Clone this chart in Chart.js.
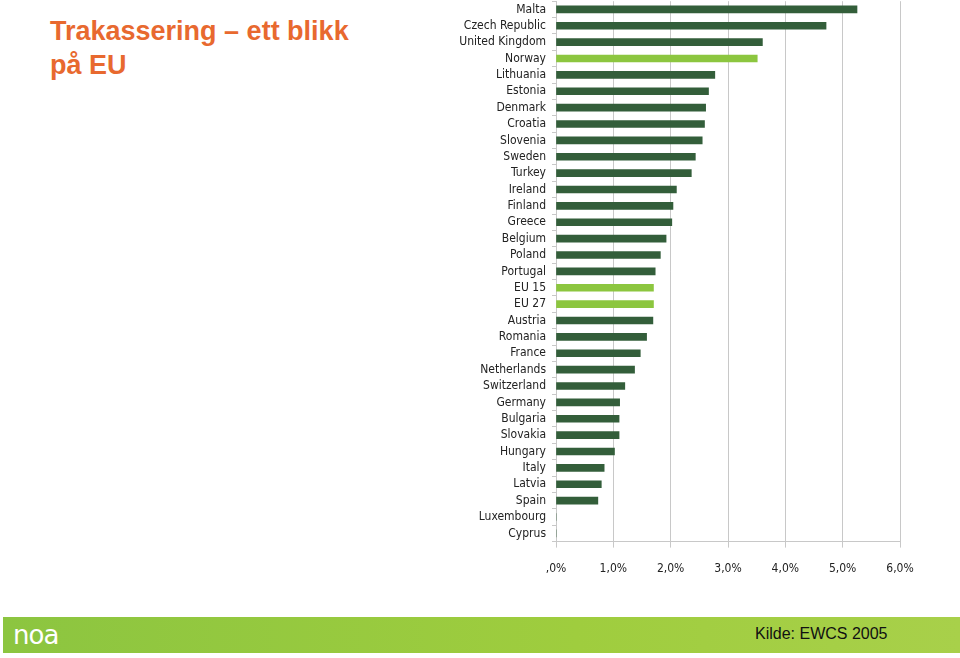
<!DOCTYPE html>
<html>
<head>
<meta charset="utf-8">
<script src="https://cdn.jsdelivr.net/npm/chart.js@4"></script>
<style>
  body { margin: 0; width: 960px; height: 658px; background: #fff; position: relative; overflow: hidden; }
  #title {
    position: absolute; left: 50px; top: 14px;
    font: bold 27px "Liberation Sans", Arial, sans-serif; line-height: 34px;
    color: #e8692f;
  }
  #chartBox { position: absolute; left: 440px; top: -12px; width: 490px; height: 602px; }
  #footer {
    position: absolute; left: 3px; top: 617px; width: 957px; height: 36px;
    background: linear-gradient(to right, #8cc540, #9fcd3e 60%, #a8d04a);
  }
  #logo {
    position: absolute; left: 10px; top: 3px;
    font: 26px "DejaVu Sans", sans-serif; color: #fff; letter-spacing: -1px;
  }
  #source {
    position: absolute; left: 752px; top: 8px;
    font: 16px "Liberation Sans", Arial, sans-serif; color: #111;
  }
</style>
</head>
<body>
<div id="title">Trakassering – ett blikk<br>på EU</div>
<div id="chartBox"><canvas id="barChart"></canvas></div>
<div id="footer"><div id="logo">noa</div><div id="source">Kilde: EWCS 2005</div></div>

<script>
// Share of workers reporting harassment, EWCS 2005
const countries = ["Malta", "Czech Republic", "United Kingdom", "Norway", "Lithuania", "Estonia",
  "Denmark", "Croatia", "Slovenia", "Sweden", "Turkey", "Ireland", "Finland", "Greece", "Belgium",
  "Poland", "Portugal", "EU 15", "EU 27", "Austria", "Romania", "France", "Netherlands",
  "Switzerland", "Germany", "Bulgaria", "Slovakia", "Hungary", "Italy", "Latvia", "Spain",
  "Luxembourg", "Cyprus"];
const harassment = [5.25, 4.71, 3.60, 3.51, 2.77, 2.66, 2.61, 2.59, 2.55, 2.43, 2.36, 2.10, 2.04,
  2.02, 1.92, 1.82, 1.73, 1.70, 1.70, 1.69, 1.58, 1.47, 1.37, 1.20, 1.11, 1.10, 1.10, 1.02, 0.84,
  0.79, 0.73, 0, 0];
const highlighted = ["Norway", "EU 15", "EU 27"];
const xTickLabels = [",0%", "1,0%", "2,0%", "3,0%", "4,0%", "5,0%", "6,0%"];

const darkGreen = '#335e3a';
const lightGreen = '#8cc63f';
const gridGray = '#c8c8c8';
const labelFont = { family: '"DejaVu Sans Condensed", "DejaVu Sans", sans-serif', size: 12 };

const ctx = document.getElementById('barChart').getContext('2d');
new Chart(ctx, {
  type: 'bar',
  data: {
    labels: countries,
    datasets: [{
      data: harassment,
      backgroundColor: countries.map(c => highlighted.includes(c) ? lightGreen : darkGreen),
      barThickness: 7,
      borderWidth: 0
    }]
  },
  options: {
    indexAxis: 'y',
    responsive: true,
    maintainAspectRatio: false,
    animation: false,
    layout: { padding: { top: 0, right: 30, bottom: 0, left: 0 } },
    plugins: { legend: { display: false }, tooltip: { enabled: false } },
    scales: {
      x: {
        min: 0, max: 6,
        ticks: {
          stepSize: 1,
          color: '#222',
          font: labelFont,
          padding: 14,
          callback: (v, i) => xTickLabels[i]
        },
        grid: { color: gridGray, tickLength: 6 },
        border: { color: gridGray }
      },
      y: {
        ticks: { color: '#222', font: labelFont, padding: 6, autoSkip: false },
        grid: { drawOnChartArea: false, color: gridGray, tickLength: 4, offset: true },
        border: { color: gridGray },
        afterFit: (axis) => { axis.width = 116; }
      }
    }
  }
});
</script>
</body>
</html>
